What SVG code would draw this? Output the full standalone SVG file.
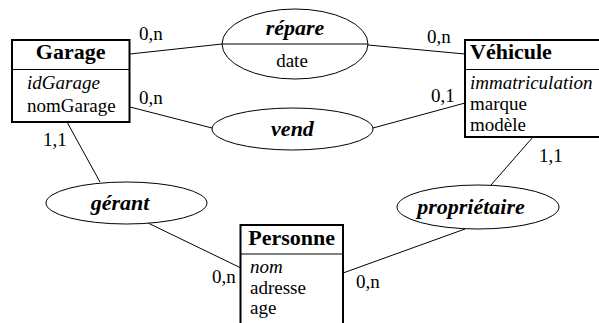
<svg xmlns="http://www.w3.org/2000/svg" width="599" height="323" viewBox="0 0 599 323" font-family="'Liberation Serif', 'Times New Roman', Times, 'DejaVu Serif', serif">
  <style>
    .box { fill: #fff; stroke: #000; stroke-width: 2; }
    .div { stroke: #000; stroke-width: 1.2; }
    .rel { fill: #fff; stroke: #000; stroke-width: 1; }
    .link { stroke: #000; stroke-width: 1; fill: none; }
    text { fill: #000; }
    .title { font-size: 22px; font-weight: bold; }
    .rname { font-size: 22px; font-weight: bold; font-style: italic; }
    .attr { font-size: 19px; }
    .key { font-size: 19px; font-style: italic; }
    .card { font-size: 19px; }
  </style>

  <!-- connectors -->
  <g id="connectors">
    <line class="link" x1="130" y1="54" x2="222" y2="44"/>
    <line class="link" x1="368" y1="45" x2="465" y2="54"/>
    <line class="link" x1="130" y1="107" x2="212" y2="128"/>
    <line class="link" x1="373" y1="128" x2="465" y2="103"/>
    <line class="link" x1="67" y1="122" x2="100" y2="182"/>
    <line class="link" x1="148" y1="223" x2="241" y2="268"/>
    <line class="link" x1="533" y1="137" x2="491" y2="185"/>
    <line class="link" x1="343" y1="273" x2="465" y2="229"/>
    <text class="card" x="139" y="40">0,n</text>
    <text class="card" x="139" y="104">0,n</text>
    <text class="card" x="427" y="43">0,n</text>
    <text class="card" x="431" y="102">0,1</text>
    <text class="card" x="43" y="146">1,1</text>
    <text class="card" x="539" y="162">1,1</text>
    <text class="card" x="212" y="283">0,n</text>
    <text class="card" x="356" y="288">0,n</text>
  </g>

  <!-- entity: Garage -->
  <g id="garage">
    <rect class="box" x="12" y="40" width="117.5" height="82"/>
    <line class="div" x1="12" y1="69.5" x2="129.5" y2="69.5"/>
    <text class="title" x="70.7" y="59" text-anchor="middle">Garage</text>
    <text class="key" x="27" y="89">idGarage</text>
    <text class="attr" x="27" y="112">nomGarage</text>
  </g>

  <!-- entity: Véhicule -->
  <g id="vehicule">
    <rect class="box" x="465" y="40" width="140" height="97"/>
    <line class="div" x1="465" y1="69.5" x2="605" y2="69.5"/>
    <text class="title" x="470" y="59">Véhicule</text>
    <text class="key" x="470" y="89">immatriculation</text>
    <text class="attr" x="470" y="110">marque</text>
    <text class="attr" x="470" y="131">modèle</text>
  </g>

  <!-- entity: Personne -->
  <g id="personne">
    <rect class="box" x="240.5" y="225" width="102.5" height="110"/>
    <line class="div" x1="240.5" y1="254" x2="343" y2="254"/>
    <text class="title" x="291.7" y="245" text-anchor="middle">Personne</text>
    <text class="key" x="250" y="273">nom</text>
    <text class="attr" x="250" y="294">adresse</text>
    <text class="attr" x="250" y="314">age</text>
  </g>

  <!-- relationship: répare -->
  <g id="repare">
    <ellipse class="rel" cx="295" cy="44" rx="73" ry="35"/>
    <line class="link" x1="222" y1="44" x2="368" y2="44"/>
    <text class="rname" x="295" y="35" text-anchor="middle">répare</text>
    <text class="attr" x="292" y="67" text-anchor="middle">date</text>
  </g>

  <!-- relationship: vend -->
  <g id="vend">
    <ellipse class="rel" cx="292.5" cy="129" rx="80.5" ry="21"/>
    <text class="rname" x="292.5" y="136" text-anchor="middle">vend</text>
  </g>

  <!-- relationship: gérant -->
  <g id="gerant">
    <ellipse class="rel" cx="126.5" cy="203" rx="80.5" ry="21"/>
    <text class="rname" x="120" y="210" text-anchor="middle">gérant</text>
  </g>

  <!-- relationship: propriétaire -->
  <g id="proprietaire">
    <ellipse class="rel" cx="478" cy="207" rx="81" ry="22"/>
    <text class="rname" x="471" y="214" text-anchor="middle">propriétaire</text>
  </g>
</svg>
